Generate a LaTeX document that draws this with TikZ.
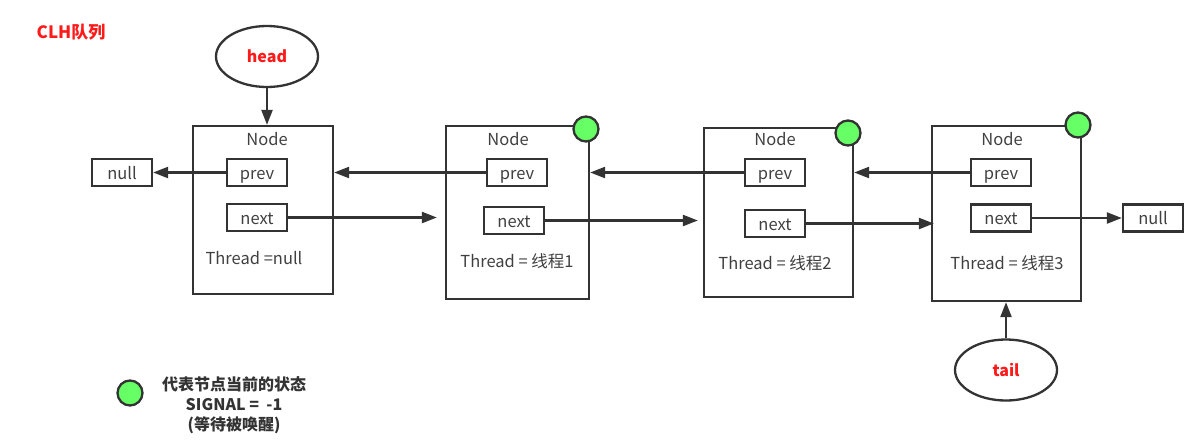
\documentclass[tikz,border=0pt]{standalone}
\usepackage{fontspec}
\setmainfont{Noto Sans CJK SC}
\usetikzlibrary{arrows.meta,shapes.geometric}
\definecolor{ink}{HTML}{333333}
\definecolor{lbl}{HTML}{404040}
\definecolor{redt}{HTML}{FF1A1A}
\definecolor{sig}{HTML}{66FF66}
\begin{document}
\begin{tikzpicture}[x=1pt,y=-1pt,
  nodebox/.style={draw=ink, line width=2.3pt, inner sep=0pt},
  field/.style={draw=ink, line width=2.3pt, minimum width=60pt, minimum height=27pt, inner sep=0pt, text height=13pt, text depth=0pt, font=\fontsize{16.5}{19}\selectfont, text=lbl},
  lab/.style={inner sep=0pt, text height=13pt, text depth=0pt, font=\fontsize{16.5}{19}\selectfont, text=lbl},
  arr/.style={draw=ink, line width=2.3pt, -{Triangle[length=15pt,width=11pt]}},
  status/.style={circle, draw=ink, line width=2.3pt, fill=sig, minimum size=25pt, inner sep=0pt},
  ptr/.style={ellipse, draw=ink, line width=2.3pt, minimum width=102pt, minimum height=61pt, inner sep=0pt, text=redt, font=\fontsize{16}{19}\selectfont\bfseries},
  legend/.style={inner sep=0pt, align=center, text=ink, font=\fontsize{16}{20}\selectfont\bfseries}
]
\useasboundingbox (0,0) rectangle (1204,445);

\node[inner sep=0pt, text=redt, font=\fontsize{17}{20}\selectfont\bfseries] (title) at (71,32) {CLH队列};

% node boxes
\node[nodebox, minimum width=140pt, minimum height=168pt] (box1) at (263,210) {};
\node[nodebox, minimum width=143pt, minimum height=173pt] (box2) at (517.5,212.5) {};
\node[nodebox, minimum width=149pt, minimum height=169pt] (box3) at (778.5,212.5) {};
\node[nodebox, minimum width=149pt, minimum height=175pt] (box4) at (1006.5,213.5) {};

\node[lab] (n1) at (267,139) {Node};
\node[lab] (n2) at (508,139) {Node};
\node[lab] (n3) at (775,139) {Node};
\node[lab] (n4) at (1002,139) {Node};

\node[field] (prev1) at (257,172.5) {prev};
\node[field] (next1) at (257,217.5) {next};
\node[field] (prev2) at (517,172.5) {prev};
\node[field] (next2) at (514,220.5) {next};
\node[field] (prev3) at (775,172.5) {prev};
\node[field] (next3) at (775,223.5) {next};
\node[field] (prev4) at (1001,172.5) {prev};
\node[field] (next4) at (1001,218) {next};

\node[field] (nullL) at (122,172.5) {null};
\node[field] (nullR) at (1153,218) {null};

\node[lab] (t1) at (254,258) {Thread =null};
\node[lab] (t2) at (517,261) {Thread = 线程1};
\node[lab] (t3) at (775,263) {Thread = 线程2};
\node[lab] (t4) at (1007,263) {Thread = 线程3};

% status circles
\node[status] (s2) at (586,129) {};
\node[status] (s3) at (848,133) {};
\node[status] (s4) at (1078,125) {};

% head / tail
\node[ptr] (head) at (267,56.5) {head};
\node[ptr] (tail) at (1006,370) {tail};

% connectors
\draw[arr] (head.south) -- (head.south |- box1.north);
\draw[arr] (tail.north) -- (tail.north |- box4.south);
\draw[arr] (prev1.west) -- (nullL.east);
\draw[arr] (prev2.west) -- (box1.east |- prev2.west);
\draw[arr] (prev3.west) -- (box2.east |- prev3.west);
\draw[arr] (prev4.west) -- (box3.east |- prev4.west);
\draw[arr, shorten >=8pt] (next1.east) -- (box2.west |- next1.east);
\draw[arr, shorten >=5pt] (next2.east) -- (box3.west |- next2.east);
\draw[arr, shorten >=-3pt] (next3.east) -- (box4.west |- next3.east);
\draw[arr] (next4.east) -- (nullR.west);

% legend
\node[status] (legc) at (130,393) {};
\node[legend] (legt) at (234,405) {代表节点当前的状态\\SIGNAL = \ -1\\(等待被唤醒)};
\end{tikzpicture}
\end{document}
